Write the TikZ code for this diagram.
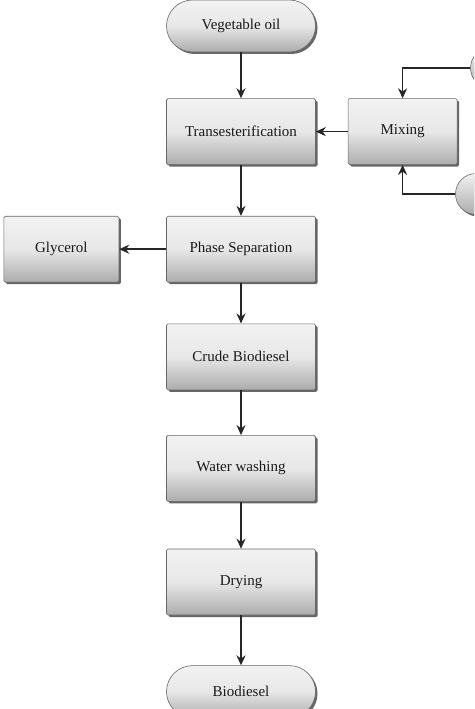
\documentclass[tikz,border=0pt]{standalone}
\usepackage{fontspec}
\setmainfont{Liberation Serif}
\usepackage{tikz}
\usetikzlibrary{arrows.meta}
\usetikzlibrary{shapes,shadows}
\usetikzlibrary{positioning,calc}
\definecolor{boxtop}{RGB}{242,242,242}
\definecolor{boxbottom}{RGB}{172,172,172}
\definecolor{boxline}{RGB}{105,105,105}
\tikzset{
	every node/.style={font=\fontsize{15}{18}\selectfont,text=black!90}
}
\tikzset{
	->,>={Stealth[length=10pt,width=9pt]},
	process/.style={rectangle,rounded corners=1.5pt,draw=boxline,line width=0.6pt,
		top color=boxtop,bottom color=boxbottom,middle color=boxtop!85!boxbottom,
		drop shadow={shadow xshift=2pt,shadow yshift=-2pt,fill=black!60,opacity=1},
		minimum width=149pt,minimum height=66pt,inner sep=0pt},
	terminal/.style={process,rounded corners=26pt,minimum height=52pt},
	feed/.style={circle,draw=boxline,line width=0.6pt,top color=boxtop,bottom color=boxbottom,
		drop shadow={shadow xshift=2pt,shadow yshift=-2pt,fill=black!60,opacity=1},
		minimum size=41pt,inner sep=0pt}
}
\begin{document}
\begin{tikzpicture}[x=1pt,y=-1pt,line width=1.5pt,draw=black!85]
	\useasboundingbox (0,0) rectangle (474,709);
	\clip (0,0) rectangle (474,709);
	\node[terminal] (oil) at (241,26) {Vegetable oil};
	\node[process] (trans) [below=46pt of oil] {Transesterification};
	\node[process] (phase) [below=51pt of trans] {Phase Separation};
	\node[process] (crude) [below=41pt of phase] {Crude Biodiesel};
	\node[process] (wash) [below=45pt of crude] {Water washing};
	\node[process] (dry) [below=47pt of wash] {Drying};
	\node[terminal] (bio) [below=50pt of dry] {Biodiesel};
	\node[process,minimum width=115pt] (gly) [left=47pt of phase] {Glycerol};
	\node[process,minimum width=109pt] (mix) [right=32pt of trans] {Mixing};
	\node[feed] (feedA) at (491,68) {};
	\node[feed] (feedB) at (476,194) {};
	\path[->] (oil) edge (trans);
	\path[->] (trans) edge (phase);
	\path[->] (phase) edge (crude);
	\path[->] (crude) edge (wash);
	\path[->] (wash) edge (dry);
	\path[->] (dry) edge (bio);
	\path[->] (phase) edge (gly);
	\path[->] (mix) edge (trans);
	\draw[->] (feedA) -| (mix);
	\draw[->] (feedB) -| (mix);
\end{tikzpicture}
\end{document}
